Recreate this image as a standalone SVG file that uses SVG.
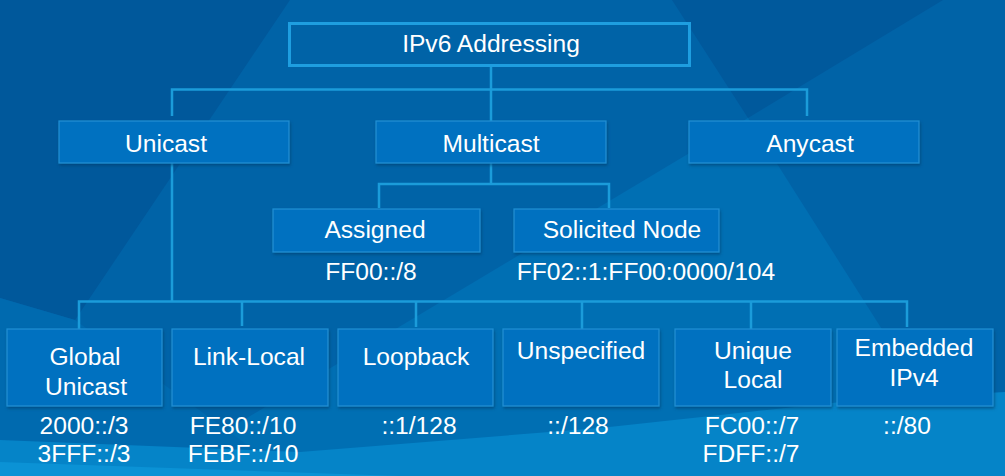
<svg xmlns="http://www.w3.org/2000/svg" width="1005" height="476" viewBox="0 0 1005 476">
<defs>
<filter id="sh" x="-10%" y="-10%" width="120%" height="130%">
<feDropShadow dx="1" dy="2" stdDeviation="1.5" flood-color="#003a6a" flood-opacity="0.6"/>
</filter>
<style>
.box{fill:#0071c0;stroke:#2290d4;stroke-width:1.2;filter:url(#sh)}
.top{fill:none;stroke:#1e9ee0;stroke-width:3}
.t{font-family:"Liberation Sans",Arial,sans-serif;font-size:24.6px;fill:#ffffff;text-anchor:middle}
.c{fill:none;stroke:#1b9cda;stroke-width:2.5}
</style>
</defs>
<g id="background">
<rect x="0" y="0" width="1005" height="476" fill="#0063a7"/>
<polygon points="0,0 290,0 75,320 0,298" fill="#00589b"/>
<polygon points="672,0 943,0 748,118" fill="#00599c"/>
<polygon points="748,118 975,476 150,476" fill="#006fb3"/>
<polygon points="0,298 75,320 290,476 0,476" fill="#006aaf"/>
<polygon points="0,440 300,452 600,428 860,400 1005,392 1005,476 0,476" fill="#0584c8"/>
<polygon points="0,462 400,476 0,476" fill="#0b92d5"/>
</g>
<g id="connectors">
<path class="c" d="M491,66 V121 M172,116 V89.5 H807 V116"/>
<path class="c" d="M172,163 V301.5 M79,330 V301.5 H907 V327 M242,301.5 V326 M416,301.5 V327 M582,301.5 V330 M751,301.5 V330"/>
<path class="c" d="M491,163 V184 M379,208 V184 H609 V208"/>
</g>
<g id="n-root"><rect class="top" x="289.5" y="23.5" width="400" height="42"/><text class="t" x="491" y="52">IPv6 Addressing</text></g>
<g id="n-unicast"><rect class="box" x="59" y="121" width="230" height="42"/><text class="t" x="166" y="152">Unicast</text></g>
<g id="n-multicast"><rect class="box" x="376" y="121" width="230" height="42"/><text class="t" x="491" y="152">Multicast</text></g>
<g id="n-anycast"><rect class="box" x="689" y="121" width="230" height="42"/><text class="t" x="810" y="152">Anycast</text></g>
<g id="n-assigned"><rect class="box" x="273" y="209" width="207" height="43"/><text class="t" x="375" y="238">Assigned</text><text class="t" x="371" y="280">FF00::/8</text></g>
<g id="n-solicited"><rect class="box" x="514" y="209" width="205" height="43"/><text class="t" x="622" y="238">Solicited Node</text><text class="t" x="646" y="280">FF02::1:FF00:0000/104</text></g>
<g id="n-global"><rect class="box" x="7" y="329" width="155" height="77"/><text class="t" x="85" y="365">Global</text><text class="t" x="86" y="395">Unicast</text><text class="t" x="84" y="434">2000::/3</text><text class="t" x="84" y="462">3FFF::/3</text></g>
<g id="n-linklocal"><rect class="box" x="172" y="329" width="156" height="77"/><text class="t" x="249" y="365">Link-Local</text><text class="t" x="243" y="434">FE80::/10</text><text class="t" x="243" y="462">FEBF::/10</text></g>
<g id="n-loopback"><rect class="box" x="338" y="329" width="155" height="77"/><text class="t" x="416" y="365">Loopback</text><text class="t" x="419" y="434">::1/128</text></g>
<g id="n-unspecified"><rect class="box" x="503" y="329" width="156" height="77"/><text class="t" x="581" y="359">Unspecified</text><text class="t" x="578" y="434">::/128</text></g>
<g id="n-uniquelocal"><rect class="box" x="675" y="329" width="156" height="77"/><text class="t" x="753" y="359">Unique</text><text class="t" x="753" y="388">Local</text><text class="t" x="752" y="434">FC00::/7</text><text class="t" x="751" y="462">FDFF::/7</text></g>
<g id="n-embedded"><rect class="box" x="837" y="329" width="156" height="77"/><text class="t" x="914" y="356">Embedded</text><text class="t" x="914" y="386">IPv4</text><text class="t" x="907" y="434">::/80</text></g>
</svg>
